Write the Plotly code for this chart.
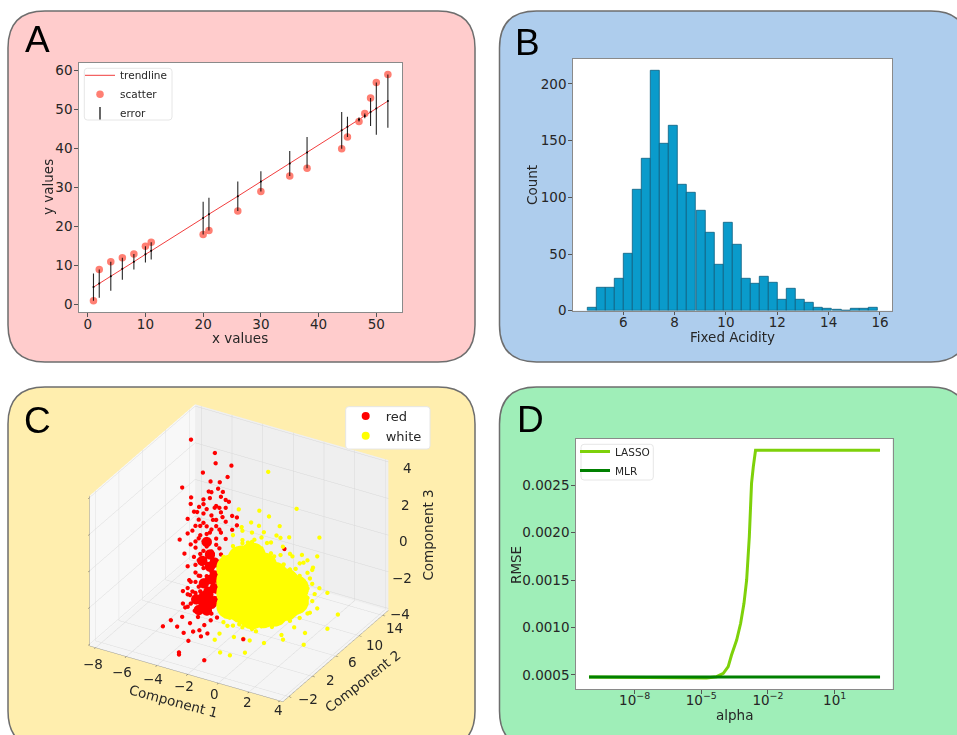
import plotly.graph_objects as go

W, H = 957, 735

# ---------- Panel A ----------
a_x = [1, 2, 4, 6, 8, 10, 11, 20, 21, 26, 30, 35, 38, 44, 45, 47, 48, 49, 50, 52]
a_y = [1, 9, 11, 12, 13, 15, 16, 18, 19, 24, 29, 33, 35, 40, 43, 47, 49, 53, 57, 59]
a_trend = [4.5, 5.4, 7.3, 9.2, 11, 12.9, 13.8, 22.2, 23.2, 27.8, 31.6, 36.2, 39, 44.7, 45.6, 47.5, 48.4, 49.4, 50.3, 52.2]
a_err = [3.5, 3.6, 3.7, 2.8, 2, 2.1, 2.2, 4.2, 4.2, 3.8, 2.6, 3.2, 4, 4.7, 2.6, 0.5, 0.6, 3.6, 6.7, 6.8]

# ---------- Panel B ----------
b_centers = [4.78, 5.13, 5.48, 5.84, 6.19, 6.54, 6.90, 7.25, 7.60, 7.96, 8.31, 8.66, 9.02, 9.37, 9.72, 10.08,
             10.43, 10.78, 11.14, 11.49, 11.84, 12.20, 12.55, 12.90, 13.26, 13.61, 13.96, 14.32, 14.67, 15.02, 15.38, 15.73]
b_counts = [3, 20, 20, 28, 50, 107, 134, 212, 147, 163, 111, 104, 88, 69, 41, 78,
            58, 28, 24, 30, 25, 10, 19, 10, 7, 3, 2, 1, 0, 2, 2, 3]
b_width = 0.353

# ---------- Panel C ----------
red_x = [-4, -3.38, -4.42, -3.8, -5.04, -5.45, -2.76, -3.18, -4.21, -4.63, -3.59, -5.14, -3.69, -2.97, -4.42, -4.83,
         -3.59, -4, -3.38, -4.63, -4.42, -4.94, -5.04, -4.63, -5.66, -5.97, -4.42, -4.94, -5.35, -4.63, -4.21, -5.14,
         -4.63, -5.45, -4.94, -4, -3.59, -3.59, -3.38,
         -4.9, -4.85, -3.82, -5.68, -4.07, -5.18, -4.58, -7.03, -7.07, -5.3, -4.69, -4.38, -6.45, -5.93,
         -4.69, -4.89, -4.38, -3.86, -3.45, -3.03, -2.62, -4.07, -3.45, -2.93, -4.38, -3.24, -2.82,
         -4.25, -4.77, -3.84, -3.42, -3.11, -2.29, -2.8, -1.87, 0.47, -2.39, -3.34, -3.34, -1.69, 0.86]
red_y = [6, 6, 6, 6, 6, 6, 6, 6, 6, 6, 6, 6, 6, 6, 6, 6,
         6, 6, 6, 6, 6, 6, 6, 6, 6, 6, 6, 6, 6, 6, 6, 6,
         6, 6, 6, 6, 6, 6, 6,
         9.2, 9.2, 9.2, 9.2, 9.2, 9.2, 9.2, 9.2, 10.8, 9.2, 9.2, 9.2, 9.2, 9.2,
         3.6, 3.6, 3.6, 3.6, 3.6, 3.6, 3.6, 3.6, 3.6, 3.6, 3.6, 3.6, 3.6,
         0, 0, 0, 0, 0, 0, 0, 0, 0, 0, -1, -1, -1, 6]
red_z = [2.54, 2.16, 1.6, 1.4, 1.55, 1.06, 2.64, 1.7, 0.95, 0.36, 0.43, 0.49, 2.09, 2.26, 2.11, 1.58,
         1.45, 0.66, 0.97, 0.87, 0.07, -0.05, -0.92, -0.66, -0.89, -0.2, -0.95, -1.75, -2.26, -1.86, -1.94, -2.83,
         -2.7, -2.72, -3.29, -2.91, -2.47, -1.45, -0.05,
         3.9, 3.35, 3.47, 2.64, 2.79, 2.28, 2.38, 1.5, 3.66, 1.7, 2.0, 1.9, 1.1, 0.71,
         -2.93, -3.49, -3.71, -3.25, -3.59, -3.23, -2.98, -2.96, -2.83, -2.37, -2.18, -1.92, -1.31,
         -2.52, -2.98, -2.77, -3.01, -3.37, -2.93, -2.79, -2.67, -2.42, -2.62, -3.78, -3.9, -3.81, 0.94]
red_more_x = [-4.94, -4.94, -4.94, -4.94, -4.94, -4.73, -4.73, -4.73, -4.73, -4.73, -4.73,
              -4.42, -4.42, -4.42, -4.42, -4.42, -4.42, -4.21, -4.21, -4.21, -4.21, -4.21, -4.21, -4.21,
              -3.9, -3.9, -3.9, -3.9, -3.9, -3.9, -3.9, -3.59, -3.59, -3.59, -3.59, -3.59, -3.59,
              -3.28, -3.28, -3.28, -3.28, -2.97, -2.97, -2.97, -5.45, -5.45, -5.45, -5.45,
              -5.25, -5.25, -5.25, -5.25, -5.76, -5.76, -2.55, -2.55, -2.24, -2.24]
red_more_y = [6] * 58
red_more_z = [0.8, -0.39, -1.33, -2.26, -2.86, 1.19, 0.17, -1.02, -1.87, -2.47, -3.06,
              2.37, 1.09, -0.44, -1.38, -2.31, -3.08, 1.89, 0.53, -0.15, -1.09, -1.77, -2.45, -3.47,
              2.89, 1.62, 0.85, -0.34, -1.45, -2.72, -3.74, 2.21, 1.11, 0.09, -0.85, -1.87, -2.98,
              2.79, 1.94, 0.83, -0.36, 2.69, 1.5, 0.56, 0.26, -1.53, -3.06, -3.74,
              1.92, -0.29, -2.33, -3.52, -3.64, -2.96, 1.92, 1.16, 1.91, 1.48]
red_core_x = [-4, -4, -3.9, -4.1, -4.42, -4.73, -4.2, -4.21, -3.7, -3.7, -3.7, -3.7, -4.4, -4.4, -4.9, -4.5, -3.9, -4.1]
red_core_y = [6] * 18
red_core_z = [-0.53, -1.2, -1.87, -2.59, -3.34, -3.74, -3.64, 0.1, -0.9, -1.6, -2.3, -3.0, -2.2, -2.9, -3.2, -1.0, -3.2, -3.0]

white_x = [-1.42, 0.43, -2, -1.37, 3.14, 0.55, -3.34, -1.31, -0.8, -0.48, 0.34, 1.17, -1.93, -1.1, -1.52, -0.28, 0.76,
           1.38, 2, 1.59, 2.1, 2.72, 3, 2.52, 3.14, 3.66, 2.83, 3, 2.52, 3.66, 3.12,
           3.95, 2.5, 2.6, 1.36, 0.12, -0.86, -1.5, 0.01, -0.6, -1.54, -1.02, -1.85, 0.43, 0.84, 1.88, 3.33, 2.2,
           -1.37, -1.79, -2.2, -2.41, -2.51, -2.2, -1.79, -1.17, -0.13, -0.96, -0.44, 0.28, 1.11, 1.73, 0.7, 0.07,
           1.38, 1.9, 1.79, 1.38, 0.76, -0.28]
white_y = [9.2, 9.2, 9.2, 9.2, 6, 6, 9.2, 6, 6, 6, 6, 6, 6, 6, 6, 6, 6,
           6, 6, 6, 6, 6, 6, 6, 6, 6, 6, 6, 6, 6, 9.2,
           1.2, 1.2, 1.2, 1.2, 1.2, 1.2, 1.2, 1.2, 1.2, 1.2, 1.2, 1.2, 1.2, 1.2, 1.2, 1.2, 6,
           3.6, 3.6, 3.6, 3.6, 3.6, 3.6, 3.6, 3.6, 3.6, 3.6, 3.6, 3.6, 3.6, 3.6, 3.6, 3.6,
           6, 6, 6, 6, 6, 6]
white_z = [3.71, 2.14, 1.45, 1.29, 2.11, 2.11, 1.2, 1.86, 1.8, 1.53, 1.55, 1.65, 1.46, 0.97, 0.71, 0.99, 1.04,
           0.66, 0.89, 0.03, 0.49, 0.37, 1.05, -0.27, -0.65, -0.78, -1.05, -1.79, -2.14, -2.74, -2.98,
           -2.21, -2.03, -2.26, -2.74, -3.57, -3.95, -3.95, -2.84, -2.89, -2.93, -2.38, -3.34, -2.83, -2.23, -1.74, -1.41, -3.32,
           0.87, 0.27, -0.32, -1.06, -1.75, -2.37, -2.79, -3, -2.59, 1.65, 1.43, 1.41, 1.26, 0.97, 0.73, 1.02,
           -0.53, -0.92, -1.96, -2.57, -2.88, -3.35]
white_more_x = [-2.2, -2.2, -2.2, -2.2, -1.58, -1.58, -1.58, -1.58, -0.96, -0.96, -0.96, -0.96,
                -0.34, -0.34, -0.34, -0.34, -0.34, 0.28, 0.28, 0.28, 0.28, 0.28, 0.9, 0.9, 0.9, 0.9, 0.9,
                1.52, 1.52, 1.52, 1.52, 1.52, 2.14, 2.14, 2.14, 2.14, 2.14, 2.77, 2.77, 2.77, 2.77, 2.77,
                3.28, 3.28, 3.28, 3.28, 3.28, 3.59, 3.59, 3.59]
white_more_y = [3.6] * 50
white_more_z = [0.44, -0.83, -2.2, -3.13, 1.77, 1.17, 0.58, -3.17, 2.16, 1.48, 0.97, -3.11,
                2.21, 1.7, 1.19, -2.55, -3.06, 2.09, 1.5, 0.99, -2.33, -2.76, 1.97, 1.38, 0.87, -2.11, -2.54,
                2.37, 1.43, 0.75, -1.72, -2.23, 1.65, 0.8, 0.29, -1.58, -2.01, 1.28, 0.6, 0.09, -1.11, -1.7,
                1.57, 0.89, 0.03, -0.48, -1.33, 1.12, 0.36, -0.58]
white_core_x = [-1.79, -1.79, -1.79, -1.79, -1.06, -1.06, -1.06, -1.06, -1.06, -0.34, -0.34, -0.34, -0.34, -0.34, -0.34,
                0.39, 0.39, 0.39, 0.39, 0.39, 1.11, 1.11, 1.11, 1.11, 1.83, 1.83, 1.83, 2.46, 2.46]
white_core_y = [3.6] * 29
white_core_z = [-0.07, -0.75, -1.43, -2.11, 0.6, -0.09, -0.77, -1.45, -2.13, 0.94, 0.26, -0.43, -1.11, -1.79, -2.3,
                0.58, -0.1, -0.78, -1.46, -2.06, 0.24, -0.44, -1.12, -1.8, 0.05, -0.63, -1.31, -0.15, -0.83]
c_ticks_x = [-8, -6, -4, -2, 0, 2, 4]
c_ticks_y = [-2, 2, 6, 10, 14]
c_ticks_z = [-4, -2, 0, 2, 4]

# ---------- Panel D ----------
d_log_alpha = [-10.05, -5.51, -4.76, -4.31, -4.01, -3.79, -3.64, -3.41, -3.23, -3.08, -2.96, -2.84, -2.74, -2.66, -2.56, 3.04]
d_lasso = [0.00048, 0.000475, 0.000468, 0.000482, 0.000518, 0.000588, 0.000711, 0.000869, 0.001045, 0.001256,
           0.001502, 0.001959, 0.002521, 0.002697, 0.002869, 0.002869]
d_mlr = [0.00048] * len(d_lasso)
d_alpha = [10 ** v for v in d_log_alpha]


def px_x(x):
    return x / W


def px_y(y):
    return 1 - y / H


def rounded(x0, y0, x1, y1, r):
    a, b, c, d = px_x(x0), px_y(y0), px_x(x1), px_y(y1)
    rx, ry = r / W, r / H
    return (f"M {a+rx} {b} L {c-rx} {b} Q {c} {b} {c} {b-ry} L {c} {d+ry} Q {c} {d} {c-rx} {d} "
            f"L {a+rx} {d} Q {a} {d} {a} {d+ry} L {a} {b-ry} Q {a} {b} {a+rx} {b} Z")


panels = [(8, 11, 475, 362, "#FFCCCC"), (499.5, 11, 968, 362, "#AECDED"),
          (8, 387, 475, 748, "#FFEEAE"), (499.5, 387, 968, 748, "#9FEEB8")]
letters = [("A", 37, 40), ("B", 527, 42), ("C", 37, 420), ("D", 530, 419)]
TXT = "#262626"
FONT = "DejaVu Sans"
# axis titles: text, centre x, centre y, angle
axis_titles = [("x values", 240, 338, 0), ("y values", 48, 187, -90), ("Fixed Acidity", 732, 337, 0),
               ("Count", 532, 185, -90), ("alpha", 734, 715, 0), ("RMSE", 516, 565, -90)]
legend_boxes = [(84.3, 68.3, 172, 120), (345.7, 406.7, 430, 449), (581, 444.3, 653.3, 480)]

fig = go.Figure()

# A
fig.add_trace(go.Scatter(x=a_x, y=a_trend, mode="lines", name="trendline",
                         line=dict(color="rgba(240,40,40,0.9)", width=1), xaxis="x", yaxis="y", legend="legend"))
fig.add_trace(go.Scatter(x=a_x, y=a_y, mode="markers", name="scatter",
                         marker=dict(color="rgba(255,105,90,0.85)", size=7.5), xaxis="x", yaxis="y", legend="legend"))
fig.add_trace(go.Scatter(x=a_x, y=a_trend, mode="markers", showlegend=False,
                         marker=dict(color="black", size=2),
                         error_y=dict(type="data", array=a_err, color="rgba(0,0,0,0.85)", thickness=1.1, width=0),
                         xaxis="x", yaxis="y"))
fig.add_trace(go.Scatter(x=[None], y=[None], mode="markers", name="error",
                         marker=dict(symbol="line-ns-open", color="black", size=9, line=dict(width=1.2, color="black")),
                         xaxis="x", yaxis="y", legend="legend"))
# B
fig.add_trace(go.Bar(x=b_centers, y=b_counts, width=b_width, showlegend=False, xaxis="x2", yaxis="y2",
                     marker=dict(color="#0A9BCB", line=dict(color="#0E5F80", width=0.8))))
# D
fig.add_trace(go.Scatter(x=d_alpha, y=d_lasso, mode="lines", name="LASSO", xaxis="x3", yaxis="y3",
                         line=dict(color="#7ED10A", width=3), legend="legend3"))
fig.add_trace(go.Scatter(x=d_alpha, y=d_mlr, mode="lines", name="MLR", xaxis="x3", yaxis="y3",
                         line=dict(color="#008000", width=3), legend="legend3"))
# C
fig.add_trace(go.Scatter3d(x=red_x + red_more_x, y=red_y + red_more_y, z=red_z + red_more_z, mode="markers",
                           showlegend=False, scene="scene",
                           marker=dict(color="#FF0000", size=2.5, line=dict(width=0))))
fig.add_trace(go.Scatter3d(x=red_core_x, y=red_core_y, z=red_core_z, mode="markers", showlegend=False, scene="scene",
                           marker=dict(color="#FF0000", size=6, line=dict(width=0))))
fig.add_trace(go.Scatter3d(x=white_x + white_more_x, y=white_y + white_more_y, z=white_z + white_more_z, mode="markers",
                           showlegend=False, scene="scene",
                           marker=dict(color="#FFFF00", size=2.5, line=dict(width=0))))
fig.add_trace(go.Scatter3d(x=white_core_x, y=white_core_y, z=white_core_z, mode="markers", showlegend=False, scene="scene",
                           marker=dict(color="#FFFF00", size=16, line=dict(width=0))))
for nm, col in [("red", "#FF0000"), ("white", "#FFFF00")]:
    fig.add_trace(go.Scatter(x=[None], y=[None], mode="markers", name=nm, legend="legend2", xaxis="x", yaxis="y",
                             marker=dict(color=col, size=8)))


def cart(**kw):
    base = dict(showgrid=False, zeroline=False, showline=True, mirror=True, linecolor="#8a8a8a", linewidth=1,
                ticks="outside", ticklen=3.5, tickcolor="#555", tickwidth=1,
                tickfont=dict(family=FONT, size=13.5, color=TXT), automargin=False)
    base.update(kw)
    return base


def sc_axis(tv, rng, bg, **kw):
    d = dict(title=dict(text=""), range=rng, tickvals=tv, tickangle=0, showticklabels=False,
             showbackground=True, backgroundcolor=bg,
             gridcolor="#D8D8D8", gridwidth=1, zeroline=False, showline=True, linecolor="#999", ticks="outside",
             ticklen=3, tickcolor="#555", showspikes=False)
    d.update(kw)
    return d


leg = dict(bgcolor="rgba(0,0,0,0)", borderwidth=0, xanchor="left", yanchor="top", tracegroupgap=0)

shapes = [dict(type="path", path=rounded(a, b, c, d, 37), xref="paper", yref="paper", fillcolor=col,
               line=dict(color="#6E6E6E", width=1.5), layer="below") for a, b, c, d, col in panels]
for s in ["", "2", "3"]:
    shapes.append(dict(type="rect", xref=f"x{s} domain", yref=f"y{s} domain", x0=0, x1=1, y0=0, y1=1,
                       fillcolor="white", line=dict(width=0), layer="below"))
for a, b, c, d in legend_boxes:
    shapes.append(dict(type="path", path=rounded(a, b, c, d, 3), xref="paper", yref="paper", fillcolor="white",
                       line=dict(color="#E6E6E6", width=1), layer="above"))

annotations = [dict(text=t, x=px_x(x), y=px_y(y), xref="paper", yref="paper", showarrow=False, xanchor="center",
                    yanchor="middle", font=dict(family="Liberation Sans", size=37, color="black"))
               for t, x, y in letters]
annotations += [dict(text=t, x=px_x(x), y=px_y(y), xref="paper", yref="paper", showarrow=False, xanchor="center",
                     yanchor="middle", textangle=ang, font=dict(family=FONT, size=13.5, color=TXT))
                for t, x, y, ang in axis_titles]

sfont = dict(family=FONT, size=13.5, color=TXT)


def lab(v):
    return str(v).replace("-", "−")


scene_notes = [dict(x=4.2, y=15, z=v, text=lab(v), showarrow=False, xanchor="center", xshift=sh,
                    yshift=-6, font=sfont) for v, sh in zip(c_ticks_z, [12, 14, 15, 17, 19])]
scene_notes += [dict(x=v, y=-3, z=-4.1, text=lab(v), showarrow=False, xanchor="center", xshift=sx, yshift=sy, font=sfont)
                for v, sx, sy in zip(c_ticks_x, [-3, -4, -4, -4, -4, -2, -1], [-16, -15, -13.5, -12, -11, -10, -9])]
scene_notes += [dict(x=4.2, y=v, z=-4.1, text=lab(v), showarrow=False, xanchor="center", xshift=sx, yshift=sy, font=sfont)
                for v, sx, sy in zip(c_ticks_y, [19, 18, 17, 15, 12], [-2, -4, -6, -9, -13])]
scene_notes += [
    dict(x=4.2, y=15, z=0, text="Component 3", showarrow=False, textangle=-90, xshift=40, font=sfont),
    dict(x=-2.1, y=-3, z=-4.1, text="Component 1", showarrow=False, textangle=15, xshift=-13, yshift=-27, font=sfont),
    dict(x=4.2, y=6, z=-4.1, text="Component 2", showarrow=False, textangle=-38, xshift=27, yshift=-25, font=sfont),
]

fig.update_layout(
    width=W, height=H, margin=dict(l=0, r=0, t=0, b=0, pad=0), paper_bgcolor="white", plot_bgcolor="white",
    autosize=False, bargap=0,
    xaxis=cart(domain=[px_x(78.7), px_x(402.3)], range=[-1.56, 54.5], tickvals=[0, 10, 20, 30, 40, 50], anchor="y",
               ticklabelstandoff=-4),
    yaxis=cart(domain=[px_y(312), px_y(62.7)], range=[-1.88, 62.05], tickvals=[0, 10, 20, 30, 40, 50, 60], anchor="x",
               ticklabelstandoff=-1),
    xaxis2=cart(domain=[px_x(572.7), px_x(892.3)], range=[4.03, 16.48], tickvals=[6, 8, 10, 12, 14, 16], anchor="y2",
                ticklabelstandoff=-4),
    yaxis2=cart(domain=[px_y(310.7), px_y(58.7)], range=[0, 222.3], tickvals=[0, 50, 100, 150, 200], anchor="x2",
                ticklabelstandoff=-1),
    xaxis3=cart(type="log", domain=[px_x(575.7), px_x(892.7)], range=[-10.65, 3.61],
                tickvals=[1e-8, 1e-5, 1e-2, 1e1], ticklabelstandoff=-5,
                ticktext=["10<sup>−8</sup>", "10<sup>−5</sup>", "10<sup>−2</sup>", "10<sup>1</sup>"], anchor="y3"),
    yaxis3=cart(domain=[px_y(689.3), px_y(438.7)], range=[0.000349, 0.002992],
                tickvals=[0.0005, 0.001, 0.0015, 0.002, 0.0025], ticklabelstandoff=-1,
                ticktext=["0.0005", "0.0010", "0.0015", "0.0020", "0.0025"], anchor="x3"),
    scene=dict(domain=dict(x=[px_x(20), px_x(458)], y=[px_y(735), px_y(371)]),
               bgcolor="rgba(0,0,0,0)",
               xaxis=sc_axis(c_ticks_x, [-8.4, 4.2], "#F8F8F8"),
               yaxis=sc_axis(c_ticks_y, [-3, 15], "#EFEFEF"),
               zaxis=sc_axis(c_ticks_z, [-4.1, 4.1], "#F5F5F5"),
               aspectmode="manual", aspectratio=dict(x=1.226, y=1.16, z=0.953),
               camera=dict(eye=dict(x=0.866, y=-1.5, z=1.0), center=dict(x=0, y=0, z=0),
                           projection=dict(type="orthographic")),
               annotations=scene_notes),
    legend=dict(leg, x=px_x(80), y=px_y(60.8), font=dict(family=FONT, size=10.5, color=TXT)),
    legend2=dict(leg, x=px_x(345.7), y=px_y(401), font=dict(family=FONT, size=13, color=TXT)),
    legend3=dict(leg, x=px_x(575), y=px_y(437), font=dict(family=FONT, size=10.5, color=TXT)),
    shapes=shapes,
    annotations=annotations,
)

fig.write_html("out.html", config=dict(displayModeBar=False),
               post_script="document.body.style.margin='0';document.body.style.overflow='hidden';")
